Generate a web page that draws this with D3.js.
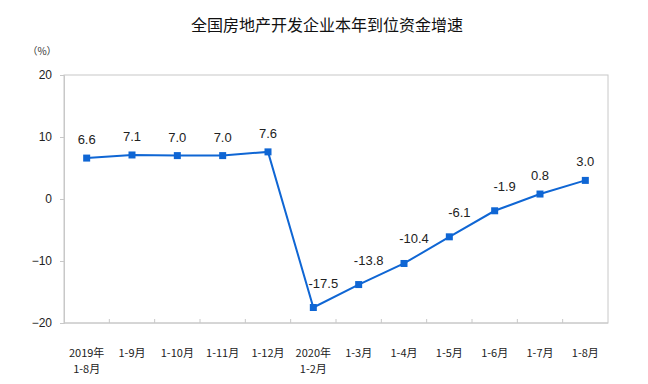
<!DOCTYPE html>
<html>
<head>
<meta charset="utf-8">
<script src="https://cdn.jsdelivr.net/npm/d3@7"></script>
<style>
  body { margin: 0; background: #fff; }
  text { font-family: "Liberation Sans", Arial, sans-serif; }
  .cjk { font-family: "Noto Sans CJK SC", sans-serif; }
</style>
</head>
<body>
<div id="chart"></div>
<script>
const TITLE = "全国房地产开发企业本年到位资金增速"
const categories = ["2019年\n1-8月", "1-9月", "1-10月", "1-11月", "1-12月", "2020年\n1-2月",
                    "1-3月", "1-4月", "1-5月", "1-6月", "1-7月", "1-8月"]
const values = [6.6, 7.1, 7.0, 7.0, 7.6, -17.5, -13.8, -10.4, -6.1, -1.9, 0.8, 3.0]
const yTicks = [-20, -10, 0, 10, 20]

const W = 648, H = 384
const MARGIN = { TOP: 75, BOTTOM: 61, LEFT: 64, RIGHT: 40 }
const innerW = W - MARGIN.LEFT - MARGIN.RIGHT
const innerH = H - MARGIN.TOP - MARGIN.BOTTOM
const BLUE = "#0f66d4"
const AXIS = "#c8c8c8"

const svg = d3.select("#chart").append("svg")
  .attr("width", W).attr("height", H)

svg.append("text")
  .attr("class", "cjk")
  .attr("x", 327).attr("y", 31)
  .attr("text-anchor", "middle")
  .attr("font-size", 16)
  .attr("fill", "#111")
  .text(TITLE)

svg.append("text")
  .attr("class", "cjk")
  .attr("x", 42).attr("y", 55)
  .attr("text-anchor", "middle")
  .attr("font-size", 10)
  .attr("fill", "#333")
  .text("（%）")

const g = svg.append("g").attr("transform", `translate(${MARGIN.LEFT},${MARGIN.TOP})`)

const x = d3.scaleBand().domain(categories).range([0, innerW])
const y = d3.scaleLinear().domain([-20, 20]).range([innerH, 0])

// frame
g.append("rect")
  .attr("x", 0).attr("y", 0)
  .attr("width", innerW).attr("height", innerH)
  .attr("fill", "none").attr("stroke", AXIS)

// y axis
const yAxis = g.append("g")
  .call(d3.axisLeft(y).tickValues(yTicks).tickSize(4).tickPadding(8).tickFormat(d3.format("d")))
yAxis.select(".domain").attr("stroke", AXIS)
yAxis.selectAll(".tick line").attr("stroke", AXIS)
yAxis.selectAll(".tick text")
  .attr("font-size", 12).attr("fill", "#222")
  .style("font-family", "'Liberation Sans Narrow', 'Liberation Sans', sans-serif")

// x axis: ticks at band boundaries, pointing up
const xAxisG = g.append("g").attr("transform", `translate(0,${innerH})`)
xAxisG.append("line")
  .attr("x1", 0).attr("x2", innerW)
  .attr("stroke", AXIS)
xAxisG.selectAll("line.tk")
  .data(categories.slice(1))
  .enter().append("line")
  .attr("class", "tk")
  .attr("x1", d => x(d)).attr("x2", d => x(d))
  .attr("y1", 0).attr("y2", -4)
  .attr("stroke", AXIS)

const labels = xAxisG.selectAll("text.cat")
  .data(categories)
  .enter().append("text")
  .attr("class", "cjk cat")
  .attr("x", d => x(d) + x.bandwidth() / 2)
  .attr("y", 34)
  .attr("text-anchor", "middle")
  .attr("font-size", 11)
  .attr("fill", "#222")
labels.each(function (d) {
  const t = d3.select(this)
  d.split("\n").forEach((part, i) => {
    t.append("tspan")
      .attr("x", t.attr("x"))
      .attr("dy", i === 0 ? 0 : 16)
      .text(part)
  })
})

// line
const cx = (d, i) => x(categories[i]) + x.bandwidth() / 2
const line = d3.line().x((d, i) => cx(d, i)).y(d => y(d))

g.append("path")
  .datum(values)
  .attr("d", line)
  .attr("fill", "none")
  .attr("stroke", BLUE)
  .attr("stroke-width", 2)

g.selectAll("rect.pt")
  .data(values)
  .enter().append("rect")
  .attr("class", "pt")
  .attr("x", (d, i) => cx(d, i) - 3.5)
  .attr("y", d => y(d) - 3.5)
  .attr("width", 7).attr("height", 7)
  .attr("fill", BLUE)

g.selectAll("text.val")
  .data(values)
  .enter().append("text")
  .attr("class", "val")
  .attr("x", (d, i) => cx(d, i) + (d < 0 ? 10 : 0))
  .attr("y", d => y(d) - (d < 0 ? 20 : 14))
  .attr("text-anchor", "middle")
  .attr("font-size", 13)
  .attr("fill", "#222")
  .text(d => d.toFixed(1))
</script>
</body>
</html>
